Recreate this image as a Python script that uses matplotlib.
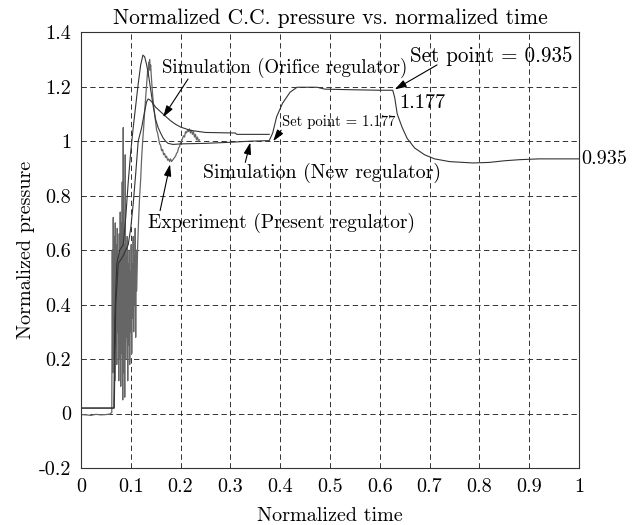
import matplotlib
matplotlib.use("Agg")
import matplotlib.pyplot as plt

plt.rcParams["font.family"] = ["cmr10", "DejaVu Serif"]
plt.rcParams["axes.unicode_minus"] = False
plt.rcParams["axes.formatter.use_mathtext"] = False

# Experiment (present regulator) - noisy measured trace
exp_t = [0.000, 0.010, 0.020, 0.030, 0.040, 0.050, 0.058, 0.062,
         0.063, 0.064, 0.065, 0.066, 0.067, 0.068, 0.069, 0.070, 0.071, 0.072,
         0.073, 0.074, 0.075, 0.076, 0.077, 0.078, 0.079, 0.080, 0.081, 0.082,
         0.083, 0.084, 0.085, 0.086, 0.087, 0.088, 0.089, 0.090, 0.091, 0.092,
         0.093, 0.094, 0.095, 0.096, 0.097, 0.098, 0.099, 0.100, 0.101, 0.102,
         0.103, 0.104, 0.105, 0.106, 0.107, 0.108, 0.109, 0.110, 0.111, 0.112,
         0.114, 0.116, 0.118, 0.120, 0.122, 0.124, 0.126, 0.128, 0.130, 0.132,
         0.134, 0.135, 0.136, 0.137, 0.138, 0.139, 0.140, 0.142, 0.144, 0.146,
         0.148, 0.150, 0.152, 0.154, 0.156, 0.158, 0.160, 0.162, 0.164, 0.166,
         0.168, 0.170, 0.172, 0.174, 0.176, 0.178, 0.180, 0.182, 0.184, 0.186,
         0.188, 0.190, 0.192, 0.194, 0.196, 0.198, 0.200, 0.202, 0.204, 0.206,
         0.208, 0.210, 0.212, 0.214, 0.216, 0.218, 0.220, 0.222, 0.224, 0.226,
         0.228, 0.230, 0.232, 0.234, 0.236, 0.238]
exp_p = [-0.004, -0.005, -0.007, -0.003, -0.005, -0.004, -0.002, 0.004,
         0.60, 0.15, 0.72, 0.20, 0.65, 0.12, 0.70, 0.25, 0.62, 0.18,
         0.68, 0.30, 0.58, 0.12, 0.66, 0.20, 0.74, 0.10, 0.70, 0.22,
         0.85, 0.05, 1.05, 0.15, 0.62, 0.06, 0.95, 0.20, 0.58, 0.28,
         0.65, 0.12, 0.55, 0.25, 0.60, 0.18, 0.52, 0.30, 0.62, 0.22,
         0.55, 0.35, 0.65, 0.30, 0.58, 0.40, 0.68, 0.28, 0.60, 0.45,
         0.62, 0.72, 0.80, 0.86, 0.94, 1.00, 1.05, 1.11, 1.16, 1.21,
         1.26, 1.24, 1.29, 1.27, 1.30, 1.26, 1.28, 1.22, 1.17, 1.13,
         1.10, 1.07, 1.04, 1.03, 1.01, 0.99, 0.985, 0.965, 0.97, 0.95,
         0.955, 0.94, 0.945, 0.93, 0.935, 0.925, 0.935, 0.925, 0.93, 0.935,
         0.94, 0.945, 0.955, 0.96, 0.975, 0.98, 0.995, 1.00, 1.01, 1.02,
         1.015, 1.035, 1.03, 1.04, 1.035, 1.045, 1.03, 1.04, 1.025, 1.035,
         1.015, 1.025, 1.005, 1.015, 1.0, 1.005]

# Simulation (orifice regulator)
ori_t = [0.000, 0.067, 0.070, 0.075, 0.085, 0.095, 0.100, 0.105, 0.110, 0.115,
         0.122, 0.128, 0.132, 0.135, 0.138, 0.142, 0.150, 0.160, 0.169, 0.180,
         0.190, 0.200, 0.219, 0.250, 0.310, 0.313, 0.378]
ori_p = [0.020, 0.020, 0.40, 0.55, 0.58, 0.62, 0.68, 0.77, 0.88, 1.00,
         1.05, 1.11, 1.145, 1.155, 1.152, 1.145, 1.125, 1.108, 1.093, 1.075,
         1.062, 1.052, 1.04, 1.032, 1.03, 1.025, 1.025]

# Simulation (new regulator), set point 1.177 then 0.935
new_t = [0.000, 0.066, 0.068, 0.072, 0.078, 0.085, 0.090, 0.095, 0.100, 0.105,
         0.110, 0.115, 0.120, 0.1245, 0.128, 0.132, 0.136, 0.140, 0.145, 0.150,
         0.155, 0.160, 0.165, 0.170, 0.175, 0.185, 0.200, 0.250, 0.300, 0.340,
         0.378, 0.385, 0.393, 0.405, 0.420, 0.434, 0.474, 0.490, 0.540, 0.600,
         0.626, 0.630, 0.635, 0.645, 0.655, 0.670, 0.690, 0.710, 0.740, 0.787,
         0.820, 0.850, 0.880, 0.920, 1.000]
new_p = [0.020, 0.020, 0.35, 0.55, 0.60, 0.62, 0.72, 0.85, 0.96, 1.05,
         1.13, 1.21, 1.28, 1.316, 1.31, 1.28, 1.24, 1.19, 1.13, 1.08,
         1.05, 1.03, 1.012, 1.0, 0.992, 0.988, 0.99, 0.992, 0.996, 1.0,
         1.002, 1.03, 1.09, 1.14, 1.18, 1.198, 1.198, 1.191, 1.189, 1.187,
         1.187, 1.16, 1.10, 1.05, 1.01, 0.975, 0.95, 0.935, 0.925, 0.92,
         0.922, 0.928, 0.932, 0.935, 0.935]

x_ticks = [0, 0.1, 0.2, 0.3, 0.4, 0.5, 0.6, 0.7, 0.8, 0.9, 1]
x_tick_labels = ["0", "0.1", "0.2", "0.3", "0.4", "0.5", "0.6", "0.7", "0.8", "0.9", "1"]
y_ticks = [-0.2, 0, 0.2, 0.4, 0.6, 0.8, 1, 1.2, 1.4]
y_tick_labels = ["-0.2", "0", "0.2", "0.4", "0.6", "0.8", "1", "1.2", "1.4"]

fig = plt.figure(figsize=(6.37, 5.25), dpi=100)
ax = fig.add_axes([0.127, 0.1086, 0.782, 0.830])

ax.plot(exp_t, exp_p, color="#666666", linewidth=0.9)
ax.plot(ori_t, ori_p, color="#333333", linewidth=0.8)
ax.plot(new_t, new_p, color="#333333", linewidth=0.8)

ax.set_xlim(0, 1)
ax.set_ylim(-0.2, 1.4)
ax.set_xticks(x_ticks)
ax.set_xticklabels(x_tick_labels)
ax.set_yticks(y_ticks)
ax.set_yticklabels(y_tick_labels)
ax.tick_params(length=0, labelsize=14.5, pad=7)
ax.grid(True, linestyle=(0, (5.5, 3.5)), color="#333333", linewidth=0.7)
for s in ax.spines.values():
    s.set_linewidth(0.8)
    s.set_color("#333333")

ax.set_title("Normalized C.C. pressure vs. normalized time", fontsize=15.5, pad=6)
ax.set_xlabel("Normalized time", fontsize=14.5, labelpad=8)
ax.set_ylabel("Normalized pressure", fontsize=14.5, labelpad=3)

arrow = dict(arrowstyle="-|>,head_length=0.7,head_width=0.22", color="k",
             lw=0.8, shrinkA=0, shrinkB=0)

ax.text(0.163, 1.27, "Simulation (Orifice regulator)", fontsize=13.6, va="center", ha="left")
ax.annotate("", xy=(0.165, 1.088), xytext=(0.215, 1.228), arrowprops=arrow)
ax.text(0.404, 1.07, "Set point = 1.177", fontsize=10.6, va="center", ha="left")
ax.annotate("", xy=(0.386, 1.0), xytext=(0.402, 1.04), arrowprops=arrow)
ax.text(0.245, 0.883, "Simulation (New regulator)", fontsize=14.3, va="center", ha="left")
ax.annotate("", xy=(0.34, 0.995), xytext=(0.33, 0.922), arrowprops=arrow)
ax.text(0.134, 0.70, "Experiment (Present regulator)", fontsize=14, va="center", ha="left")
ax.annotate("", xy=(0.179, 0.915), xytext=(0.159, 0.745), arrowprops=arrow)
ax.text(0.66, 1.313, "Set point = 0.935", fontsize=15.2, va="center", ha="left")
ax.annotate("", xy=(0.63, 1.19), xytext=(0.715, 1.28), arrowprops=arrow)
ax.text(0.64, 1.14, "1.177", fontsize=14.5, va="center", ha="left")
ax.text(1.005, 0.935, "0.935", fontsize=14.5, va="center", ha="left", clip_on=False)

fig.savefig("out.png", dpi=100)
